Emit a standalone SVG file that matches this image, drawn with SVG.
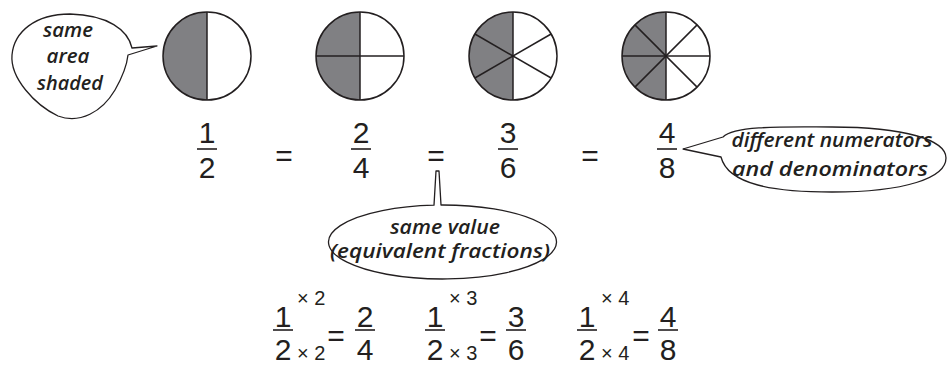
<svg xmlns="http://www.w3.org/2000/svg" width="950" height="365" viewBox="0 0 950 365">
<style>
.bg{fill:#fff}
.ol{fill:none;stroke:#231f20;stroke-width:1.5}
.sh{fill:#808083;stroke:none}
.dv{stroke:#231f20;stroke-width:1.5;fill:none}
.num{font-family:"Liberation Sans",Arial,sans-serif;font-size:30px;fill:#231f20;text-anchor:middle}
.op{font-family:"Liberation Sans",Arial,sans-serif;font-size:20px;fill:#231f20}
.bar{stroke:#231f20;stroke-width:1.6}
.bub{fill:#fff;stroke:#231f20;stroke-width:1.3;stroke-linejoin:round}
.lbl{font-family:"Open Sans","DejaVu Sans",sans-serif;font-style:italic;font-weight:600;font-size:20px;fill:#231f20;text-anchor:middle}
.sm{font-size:19px}
</style>
<rect class="bg" x="0" y="0" width="950" height="365"/>

<g id="circle-halves">
<path class="sh" d="M207,12 A44,44 0 0,0 207,100 Z"/>
<circle class="ol" cx="207" cy="56" r="44"/>
<line class="dv" x1="207" y1="12" x2="207" y2="100"/>
</g>
<g id="circle-quarters">
<path class="sh" d="M360,12 A44,44 0 0,0 360,100 Z"/>
<circle class="ol" cx="360" cy="56" r="44"/>
<line class="dv" x1="360" y1="12" x2="360" y2="100"/>
<line class="dv" x1="316" y1="56" x2="404" y2="56"/>
</g>
<g id="circle-sixths">
<path class="sh" d="M513,12 A44,44 0 0,0 513,100 Z"/>
<circle class="ol" cx="513" cy="56" r="44"/>
<line class="dv" x1="513" y1="12" x2="513" y2="100"/>
<line class="dv" x1="474.9" y1="34" x2="551.1" y2="78"/>
<line class="dv" x1="474.9" y1="78" x2="551.1" y2="34"/>
</g>
<g id="circle-eighths">
<path class="sh" d="M666,12 A44,44 0 0,0 666,100 Z"/>
<circle class="ol" cx="666" cy="56" r="44"/>
<line class="dv" x1="666" y1="12" x2="666" y2="100"/>
<line class="dv" x1="622" y1="56" x2="710" y2="56"/>
<line class="dv" x1="634.9" y1="24.9" x2="697.1" y2="87.1"/>
<line class="dv" x1="634.9" y1="87.1" x2="697.1" y2="24.9"/>
</g>

<g id="fraction-row">
<text class="num" x="207" y="143">1</text><line class="bar" x1="197" y1="149" x2="217" y2="149"/><text class="num" x="207" y="178">2</text>
<text class="num" x="284" y="166">=</text>
<text class="num" x="361" y="143">2</text><line class="bar" x1="351" y1="149" x2="371" y2="149"/><text class="num" x="361" y="178">4</text>
<text class="num" x="436" y="166">=</text>
<text class="num" x="508" y="143">3</text><line class="bar" x1="498" y1="149" x2="518" y2="149"/><text class="num" x="508" y="178">6</text>
<text class="num" x="590" y="166">=</text>
<text class="num" x="667" y="143">4</text><line class="bar" x1="657" y1="149" x2="677" y2="149"/><text class="num" x="667" y="178">8</text>
</g>

<g id="multiply-row">
<text class="num" x="283" y="327">1</text><line class="bar" x1="273" y1="330" x2="293" y2="330"/><text class="num" x="283" y="360">2</text>
<text class="op" x="297" y="305">× 2</text><text class="op" x="297" y="360">× 2</text>
<text class="num" x="336" y="346">=</text>
<text class="num" x="365" y="327">2</text><line class="bar" x1="355" y1="330" x2="375" y2="330"/><text class="num" x="365" y="360">4</text>

<text class="num" x="435" y="327">1</text><line class="bar" x1="425" y1="330" x2="445" y2="330"/><text class="num" x="435" y="360">2</text>
<text class="op" x="449" y="305">× 3</text><text class="op" x="449" y="360">× 3</text>
<text class="num" x="488" y="346">=</text>
<text class="num" x="516" y="327">3</text><line class="bar" x1="506" y1="330" x2="526" y2="330"/><text class="num" x="516" y="360">6</text>

<text class="num" x="587" y="327">1</text><line class="bar" x1="577" y1="330" x2="597" y2="330"/><text class="num" x="587" y="360">2</text>
<text class="op" x="601" y="305">× 4</text><text class="op" x="601" y="360">× 4</text>
<text class="num" x="641" y="346">=</text>
<text class="num" x="668" y="327">4</text><line class="bar" x1="658" y1="330" x2="678" y2="330"/><text class="num" x="668" y="360">8</text>
</g>

<g id="connectors">
<g id="callout-area">
<path class="bub" d="M132,48 C128,30 108,15 70,14 C35,14 14,32 12,55 C10,78 35,105 58,116 C80,124 102,112 115,90 C123,76 127,64 128,55 L157,46 Z"/>
<text class="lbl" x="68" y="37" textLength="50" lengthAdjust="spacingAndGlyphs">same</text>
<text class="lbl" x="68" y="63" textLength="43" lengthAdjust="spacingAndGlyphs">area</text>
<text class="lbl" x="70" y="90" textLength="66" lengthAdjust="spacingAndGlyphs">shaded</text>
</g>
<g id="callout-value">
<path class="bub" d="M434,205.1 L436,171 L439,171 L441,205 A114,37 0 1,1 434,205.1 Z"/>
<text class="lbl sm" x="445" y="234" textLength="110" lengthAdjust="spacingAndGlyphs">same value</text>
<text class="lbl sm" x="440" y="258" textLength="220" lengthAdjust="spacingAndGlyphs">(equivalent fractions)</text>
</g>
<g id="callout-numerators">
<path class="bub" d="M723,137 C735,125 790,127 832,127 C905,127 946,140 946,158 C946,178 905,192 832,192 C775,192 728,185 721,157 L683,149 Z"/>
<text class="lbl" x="832" y="147" textLength="201" lengthAdjust="spacingAndGlyphs">different numerators</text>
<text class="lbl" x="830" y="176" textLength="196" lengthAdjust="spacingAndGlyphs">and denominators</text>
</g>
</g>
</svg>
